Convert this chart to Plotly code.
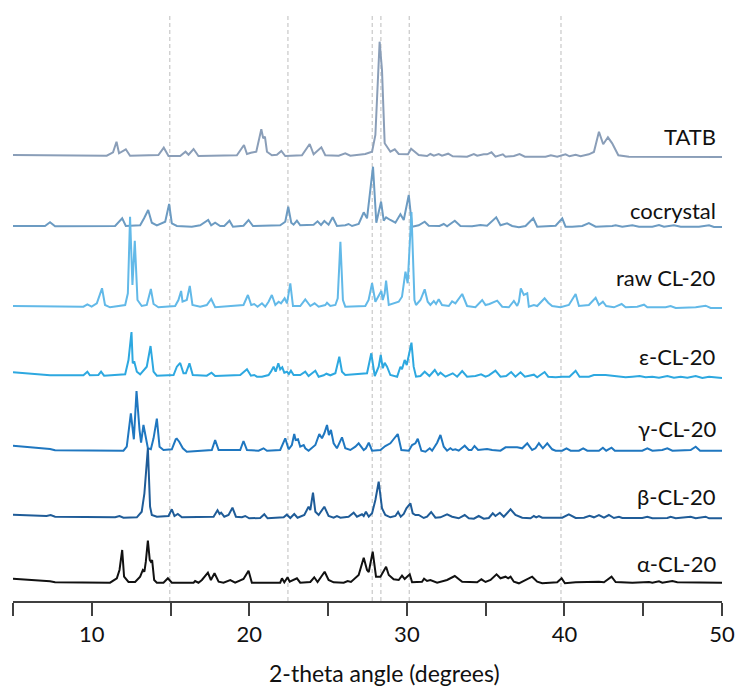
import plotly.graph_objects as go

# Powder XRD patterns (2-theta in degrees, intensity in arbitrary units above each baseline)
TATB = [(5.0, 0.3), (10.95, -0.4), (11.35, 3.0), (11.57, 13.6), (11.73, 2.0), (12.16, 6.0), (12.43, -0.4),
        (14.23, 0.3), (14.57, 7.6), (14.87, -0.7), (15.61, -0.7), (15.95, 3.6), (16.14, 0.6), (16.46, 6.3),
        (16.77, -0.7), (19.21, 0.0), (19.66, 10.3), (19.85, 1.3), (20.10, 2.6), (20.31, 3.6), (20.44, 3.6),
        (20.76, 26.0), (20.88, 17.0), (20.99, 18.6), (21.12, 3.6), (21.43, 0.0), (21.75, 0.6), (22.03, 4.3),
        (22.28, -0.7), (23.34, 0.0), (23.83, 11.3), (24.08, 1.0), (24.57, 8.0), (24.82, 0.0), (25.67, -0.4),
        (26.09, 2.0), (26.41, -0.4), (27.36, 1.3), (27.79, 3.6), (28.0, 20.3), (28.27, 113.6), (28.42, 85.3),
        (28.59, 12.0), (28.95, 3.6), (29.23, 6.0), (29.48, 1.3), (30.07, 1.0), (30.27, 6.6), (30.75, 0.3),
        (31.28, -0.7), (31.49, 1.3), (31.71, -0.4), (32.02, 1.3), (32.23, -0.4), (32.62, 1.6), (32.91, -1.0),
        (33.82, -1.4), (34.25, 1.3), (34.46, -0.4), (34.88, 1.0), (35.09, 1.0), (35.37, 3.0), (35.62, -1.4),
        (36.09, 1.0), (36.26, -1.4), (36.79, -0.7), (37.15, 1.3), (37.49, -1.4), (38.80, -1.4), (39.14, 0.0),
        (39.54, -1.4), (40.07, 1.0), (40.32, -1.0), (40.71, 0.6), (41.02, -1.0), (41.55, 1.0), (41.87, 3.3),
        (42.19, 23.6), (42.46, 11.0), (42.76, 18.0), (43.03, 12.0), (43.42, 0.0), (44.09, -1.4), (50.0, -1.7)]

COCRYSTAL = [(5.0, 0.0), (7.03, 0.0), (7.35, 3.7), (7.67, -0.3), (11.48, 0.0), (11.69, 3.3), (11.93, 7.7),
             (12.16, 0.0), (13.07, 0.7), (13.32, 7.7), (13.58, 16.0), (13.81, 3.3), (14.13, 0.7), (14.66, 4.3),
             (14.91, 22.0), (15.08, 2.7), (15.40, 0.0), (16.35, -0.7), (16.88, 0.7), (17.39, 6.0), (17.58, 0.7),
             (17.83, 3.3), (18.15, 0.0), (18.41, 0.0), (18.74, 5.3), (18.96, -0.7), (19.63, 0.3), (19.95, 6.0),
             (20.23, 0.0), (21.96, 0.7), (22.28, 4.3), (22.47, 19.3), (22.66, 3.3), (22.81, 1.3), (23.02, 5.3),
             (23.23, 0.7), (24.08, 1.3), (24.33, 4.7), (24.55, 1.0), (24.76, 5.0), (25.03, 1.3), (25.29, 8.7),
             (25.56, 0.0), (26.09, 0.7), (26.30, 2.0), (26.52, 0.0), (26.94, 2.0), (27.05, 6.0), (27.26, 13.7),
             (27.47, 7.7), (27.68, 39.3), (27.85, 59.3), (28.06, 3.3), (28.36, 24.3), (28.53, 5.3), (28.68, 8.7),
             (28.95, 6.0), (29.27, 3.3), (29.59, 11.7), (29.80, 6.0), (30.12, 31.0), (30.33, -0.7), (30.75, 0.7),
             (31.13, 4.3), (31.39, 0.3), (32.07, 0.0), (32.34, 2.0), (32.55, -0.3), (33.04, 5.3), (33.40, 0.0),
             (34.14, -0.3), (34.67, 1.0), (35.09, 0.3), (35.67, 8.7), (35.94, 0.7), (36.36, 2.7), (36.68, 0.0),
             (37.11, -1.3), (37.53, 0.0), (38.02, 7.7), (38.27, -0.7), (39.44, 0.3), (39.86, 7.7), (40.07, -0.7),
             (40.49, -0.7), (41.13, 0.0), (41.55, 3.0), (41.98, -0.7), (43.03, 0.0), (43.25, 0.7), (43.67, -0.7),
             (44.31, 0.7), (44.73, -0.7), (45.58, -0.7), (46.00, 1.0), (46.32, -0.7), (46.95, 0.7), (47.38, -0.7),
             (48.54, -0.7), (49.18, 0.7), (49.49, -1.0), (50.0, -1.0)]

RAW_CL20 = [(5.0, 1.0), (9.47, 0.3), (9.72, 2.7), (9.99, 0.3), (10.32, 3.7), (10.65, 18.7), (10.84, 2.0),
            (11.16, -0.3), (12.12, 2.0), (12.29, 13.7), (12.43, 90.3), (12.58, 22.0), (12.73, 66.3), (12.90, 7.0),
            (13.17, 1.0), (13.49, 2.0), (13.75, 18.0), (13.92, 3.0), (14.23, -0.3), (15.29, 1.0), (15.50, 7.0),
            (15.67, 16.0), (15.76, 5.3), (16.03, 7.0), (16.22, 21.0), (16.39, 2.0), (16.88, 0.3), (17.30, 2.0),
            (17.58, 8.0), (17.83, -0.3), (19.63, 2.0), (19.91, 12.0), (20.12, 2.0), (20.31, 3.0), (20.52, 0.3),
            (20.80, 3.7), (21.01, 0.3), (21.22, 5.3), (21.43, 12.0), (21.65, 2.0), (21.86, 5.3), (22.01, 3.7),
            (22.24, 8.7), (22.39, 3.7), (22.60, 23.7), (22.77, 1.0), (23.23, 1.0), (23.55, 7.7), (23.87, 1.0),
            (24.14, 3.7), (24.40, 0.3), (24.82, 2.0), (24.93, 4.3), (25.14, 1.0), (25.46, 2.0), (25.61, 8.7),
            (25.78, 65.3), (25.94, 7.0), (26.09, 0.3), (27.36, 1.0), (27.57, 7.0), (27.79, 23.7), (28.0, 5.3),
            (28.32, 15.0), (28.38, 16.0), (28.47, 7.0), (28.59, 13.7), (28.68, 26.3), (28.85, 2.0), (29.48, 5.3),
            (29.69, 10.3), (29.91, 35.3), (30.05, 23.7), (30.29, 95.0), (30.48, 7.0), (30.58, 2.0), (30.86, 7.0),
            (31.13, 17.7), (31.32, 5.3), (31.49, 2.0), (31.71, 6.0), (31.85, 3.0), (32.02, 7.7), (32.23, 2.0),
            (32.66, 1.0), (32.87, 5.7), (33.08, 3.7), (33.51, 13.0), (33.82, 1.0), (34.35, -0.3), (34.78, 7.0),
            (34.99, 2.0), (35.24, 3.0), (35.73, 6.3), (36.05, 0.3), (36.47, -0.3), (36.79, 6.0), (37.0, 1.0),
            (37.11, 5.3), (37.23, 18.7), (37.42, 12.0), (37.64, 13.7), (37.74, 0.3), (38.06, 2.0), (38.27, 1.0),
            (38.74, 8.7), (38.97, 4.3), (39.22, 1.0), (39.75, -0.3), (40.28, 2.0), (40.71, 13.0), (40.92, 1.0),
            (41.55, 2.0), (41.98, 9.3), (42.19, 2.0), (42.44, 5.3), (42.65, 1.0), (43.14, -0.3), (43.63, 3.0),
            (43.88, -0.3), (44.62, 0.3), (45.05, 2.3), (45.26, -0.3), (46.42, -0.3), (46.74, 1.0), (47.06, -1.0),
            (48.33, -0.3), (48.96, 1.3), (49.28, -1.0), (50.0, -1.0)]

EPSILON_CL20 = [(5.0, 2.7), (7.35, -0.3), (9.47, -0.3), (9.72, 3.3), (9.88, -0.3), (10.42, 0.0), (10.59, 3.3),
                (10.78, -0.7), (12.12, 0.7), (12.33, 15.0), (12.52, 43.0), (12.60, 11.7), (12.69, 13.7),
                (12.86, 3.3), (13.07, 0.7), (13.49, 8.3), (13.73, 29.0), (13.92, 3.3), (14.13, -0.7), (15.19, 0.0),
                (15.40, 8.3), (15.61, 12.0), (15.82, 1.7), (15.97, 1.7), (16.20, 11.7), (16.41, 0.0), (17.30, -0.7),
                (17.60, 2.3), (17.83, -1.0), (19.42, 0.0), (19.85, 5.7), (20.10, -0.7), (20.31, 0.0), (20.48, -1.7),
                (20.80, -1.7), (21.22, 0.0), (21.37, 3.3), (21.54, 8.3), (21.67, 3.3), (21.84, 11.7), (21.96, 5.7),
                (22.09, 7.7), (22.22, 2.3), (22.39, 3.3), (22.51, 1.0), (22.64, 4.3), (22.81, 0.0), (23.23, 0.0),
                (23.55, 3.3), (23.76, -1.0), (23.98, 1.7), (24.19, 4.3), (24.40, -1.7), (24.72, -0.3), (24.89, 1.3),
                (25.14, -0.3), (25.46, 1.7), (25.71, 18.3), (25.88, 3.3), (26.09, 0.0), (27.47, 1.7), (27.74, 21.7),
                (27.96, -1.0), (28.21, 8.3), (28.34, 20.0), (28.47, 6.7), (28.59, 12.3), (28.74, 8.3), (28.95, 0.0),
                (29.38, -1.7), (29.59, 8.3), (29.69, 5.7), (29.86, 15.0), (29.99, 10.0), (30.29, 32.3), (30.43, 8.3),
                (30.58, -1.7), (30.86, -1.0), (31.13, 3.3), (31.43, -1.0), (31.77, 5.0), (31.98, 0.0), (32.13, 2.3),
                (32.45, -1.7), (32.91, 1.7), (33.19, -1.7), (33.51, 4.0), (33.82, -1.7), (34.35, -1.0), (34.71, 0.7),
                (34.99, -1.7), (35.20, -0.3), (35.62, 4.3), (35.94, -1.7), (36.30, -1.0), (36.62, 3.0), (36.89, -1.7),
                (37.21, 2.7), (37.49, -1.7), (38.06, 0.3), (38.27, -2.3), (38.74, 3.0), (38.97, -1.7), (39.44, -2.3),
                (39.86, -1.7), (40.32, -1.7), (40.71, 4.3), (40.96, -1.7), (41.55, -1.7), (41.87, 0.0), (42.61, 0.0),
                (43.03, -0.7), (43.46, -1.7), (43.88, -2.3), (44.31, -1.7), (44.77, -1.0), (45.15, -2.3),
                (45.58, -1.7), (46.00, -2.7), (46.53, -1.0), (46.95, -2.7), (47.38, -1.7), (47.80, -2.7),
                (48.33, -1.0), (48.75, -3.0), (49.18, -1.7), (50.0, -3.0)]

GAMMA_CL20 = [(5.0, 4.3), (6.29, 2.7), (7.35, 1.0), (7.67, -0.3), (12.01, -0.7), (12.22, 3.3), (12.48, 36.7),
              (12.67, 10.7), (12.84, 59.0), (13.03, 20.0), (13.13, 7.3), (13.28, 25.0), (13.43, 13.3), (13.56, 1.7),
              (13.75, 0.7), (13.92, 11.7), (14.13, 31.3), (14.30, 3.3), (14.55, 0.0), (15.08, 0.7), (15.33, 10.7),
              (15.40, 11.3), (15.55, 8.3), (15.78, 1.7), (16.03, -1.7), (17.62, 0.0), (17.83, 10.0), (18.05, 0.0),
              (19.42, 0.0), (19.63, 9.0), (19.85, 0.0), (20.59, -0.7), (20.90, 1.7), (21.12, -0.7), (21.96, 0.0),
              (22.28, 11.7), (22.49, 0.7), (22.70, 5.0), (22.85, 16.0), (22.94, 10.0), (23.09, 10.7), (23.23, 3.3),
              (23.45, 5.0), (23.55, 1.7), (23.76, -0.7), (24.19, 5.0), (24.44, 16.0), (24.61, 11.7), (24.76, 16.7),
              (24.93, 25.0), (25.05, 15.0), (25.18, 20.0), (25.35, 6.7), (25.56, 1.7), (25.88, 12.7), (26.09, 1.7),
              (26.41, 0.0), (26.73, 3.3), (26.94, 6.7), (27.26, 0.0), (27.40, 1.7), (27.58, 7.3), (27.79, -0.7),
              (28.32, 0.0), (28.63, 4.0), (28.95, 6.7), (29.42, 16.0), (29.65, 0.0), (30.12, -0.7), (30.33, 5.0),
              (30.54, 6.7), (30.69, 11.3), (30.92, -0.7), (31.18, -1.7), (31.45, 1.7), (31.60, -0.7), (31.92, 7.3),
              (32.13, 15.0), (32.34, 3.3), (32.55, -0.7), (32.76, 1.7), (32.91, 0.0), (33.08, 0.7), (33.29, -0.7),
              (33.67, 4.3), (33.93, 0.0), (34.10, 0.0), (34.29, 4.0), (34.52, 0.0), (35.09, 1.0), (35.41, 0.0),
              (35.94, -0.7), (36.26, 2.7), (37.0, 2.7), (37.32, 1.7), (37.64, 6.7), (37.95, 0.0), (38.16, 1.7),
              (38.38, 6.7), (38.63, 1.7), (38.91, 6.7), (39.22, 0.7), (39.44, -0.7), (39.86, -0.7), (40.13, 1.7),
              (40.39, -0.7), (40.92, -0.7), (41.19, 1.7), (41.45, -0.7), (42.19, -0.7), (42.44, 2.3), (42.65, -0.7),
              (42.99, 2.3), (43.20, -0.7), (44.94, -0.7), (45.26, 1.7), (45.58, -0.7), (46.21, 0.0), (46.53, 1.7),
              (46.85, -0.7), (48.01, 0.0), (48.33, 3.3), (48.61, -0.7), (50.0, -0.7)]

BETA_CL20 = [(5.0, 2.3), (6.29, 1.3), (7.13, 1.0), (7.39, 2.0), (7.67, 0.3), (11.48, -0.3), (11.76, 1.0),
             (12.01, -0.7), (12.86, -0.3), (13.17, 5.3), (13.34, 23.7), (13.56, 68.7), (13.70, 10.3), (13.81, 2.0),
             (14.13, 0.3), (14.87, 1.0), (15.08, 7.7), (15.25, 1.0), (15.46, 3.0), (15.72, -0.3), (17.73, 0.3),
             (17.98, 6.7), (18.11, 3.0), (18.21, 4.3), (18.41, 0.3), (18.68, 2.0), (18.93, 9.3), (19.15, 0.3),
             (19.53, -0.3), (19.74, 1.0), (19.99, -1.3), (20.69, -1.0), (20.95, 2.7), (21.16, -1.3), (22.18, -0.3),
             (22.38, 2.3), (22.60, -1.0), (22.85, 3.0), (23.06, -0.7), (23.49, 2.0), (23.76, 10.3), (23.87, 7.0),
             (24.04, 24.3), (24.19, 5.3), (24.40, 2.0), (24.76, 10.3), (25.03, 1.0), (25.35, -0.7), (25.56, 1.0),
             (25.78, -0.7), (26.30, 0.3), (26.62, 4.3), (26.83, 0.3), (27.15, 2.7), (27.26, 1.0), (27.40, 5.3),
             (27.58, 0.3), (27.79, 3.7), (28.0, 17.0), (28.21, 35.3), (28.42, 8.7), (28.63, 2.0), (28.95, -0.3),
             (29.27, 1.0), (29.44, 5.0), (29.61, 0.3), (29.80, 3.0), (29.97, 8.7), (30.22, 13.7), (30.37, 3.7),
             (30.54, 2.0), (30.75, 2.0), (31.07, -1.0), (31.28, 0.3), (31.54, 5.0), (31.81, -0.7), (32.13, -0.3),
             (32.55, 2.7), (32.87, 0.3), (33.29, -1.3), (33.67, 2.0), (33.93, -1.3), (34.25, -1.7), (34.56, 1.0),
             (34.88, -1.7), (35.20, -1.0), (35.45, 3.7), (35.62, 1.0), (35.90, 4.3), (36.15, 0.3), (36.58, 7.7),
             (36.89, 2.0), (37.32, -0.7), (37.85, -1.3), (38.06, 1.0), (38.21, -0.3), (38.38, 1.0), (38.59, -0.7),
             (39.54, -1.0), (39.86, -0.7), (40.28, 2.7), (40.71, -1.0), (41.24, -0.7), (41.60, 1.3), (41.87, -0.3),
             (42.19, 2.0), (42.51, -0.7), (42.82, 2.0), (43.14, -1.0), (43.46, 0.3), (43.67, -1.0), (44.94, -1.0),
             (45.26, 0.3), (45.58, -1.3), (46.53, -1.0), (46.74, 0.3), (47.06, -1.3), (47.69, -0.7), (48.01, 0.3),
             (48.33, -1.3), (48.96, 0.3), (49.18, -1.3), (50.0, -1.3)]

ALPHA_CL20 = [(5.0, 3.3), (6.29, 2.0), (7.35, 0.7), (7.67, -0.3), (11.16, -0.7), (11.59, 3.7), (11.76, 12.0),
              (11.93, 32.0), (12.05, 5.3), (12.33, 0.0), (12.75, 0.0), (13.07, 5.3), (13.24, 12.0), (13.34, 10.3),
              (13.43, 20.3), (13.56, 41.3), (13.68, 22.0), (13.75, 20.3), (13.83, 22.0), (13.96, 2.0), (14.13, -0.7),
              (14.55, -0.7), (14.83, 3.7), (15.08, -0.7), (16.46, -0.7), (16.56, 1.0), (16.77, -0.7), (16.99, 2.0),
              (17.37, 9.3), (17.56, 2.0), (17.79, 8.7), (18.05, 0.3), (18.36, -0.7), (18.79, 2.0), (19.10, -0.7),
              (19.63, 3.0), (19.95, 11.3), (20.16, -0.7), (21.96, -0.7), (22.07, 3.7), (22.22, -0.3), (22.43, 4.7),
              (22.56, 0.3), (23.02, 3.7), (23.23, -0.7), (23.87, 0.0), (24.12, 4.7), (24.33, 0.0), (24.78, 10.3),
              (25.03, 2.0), (25.35, -0.3), (25.99, -0.7), (26.24, 1.0), (26.45, 0.0), (26.73, 3.7), (26.94, 7.0),
              (27.26, 24.3), (27.47, 12.0), (27.58, 10.0), (27.83, 30.3), (28.04, 5.3), (28.32, 5.3), (28.68, 15.3),
              (28.85, 7.0), (29.16, 2.7), (29.48, 2.0), (29.69, 6.3), (29.86, 3.0), (30.18, 7.7), (30.33, -0.3),
              (30.96, 0.3), (31.09, 3.3), (31.28, 1.0), (31.49, 2.0), (31.92, -0.7), (32.55, 2.0), (33.04, 6.0),
              (33.51, 0.3), (34.46, -0.3), (34.73, 2.7), (34.99, 0.0), (35.31, 2.0), (35.69, 7.7), (35.94, 3.7),
              (36.26, 5.3), (36.43, 3.7), (36.58, 5.3), (36.79, 0.3), (37.11, -1.3), (37.64, 2.7), (37.95, 5.3),
              (38.27, 0.3), (38.59, -1.3), (39.54, -0.3), (39.82, 3.7), (40.03, -1.3), (40.71, -0.3), (42.19, 0.3),
              (42.51, -0.3), (42.99, 5.3), (43.25, 0.0), (44.31, -0.7), (45.37, 0.0), (45.58, -0.7), (46.00, 0.7),
              (46.21, -0.7), (46.85, 1.0), (47.16, -0.3), (50.0, -0.7)]

SERIES_NAMES = ["TATB", "cocrystal", "raw CL-20", "ε-CL-20", "γ-CL-20", "β-CL-20", "α-CL-20"]
SERIES_DATA = [TATB, COCRYSTAL, RAW_CL20, EPSILON_CL20, GAMMA_CL20, BETA_CL20, ALPHA_CL20]
STACK_OFFSETS = [445.7, 375.0, 294.0, 226.0, 151.0, 84.0, 19.0]

# Reference 2-theta positions marked with dashed guides
GUIDE_ANGLES = [14.95, 22.45, 27.8, 28.35, 30.15, 39.78]

TICK_VALUES = [5, 10, 15, 20, 25, 30, 35, 40, 45, 50]
TICK_LABELS = ["", "10", "", "20", "", "30", "", "40", "", "50"]

COLORS = ["#8A9EB8", "#6C9BC2", "#62B9E8", "#2DA8E0", "#1F77C0", "#1F5C98", "#111111"]
LABEL_RISE = [18.6, 16.0, 30.0, 18.3, 21.7, 20.3, 19.0]
FONT = "Lato, 'Open Sans', sans-serif"

fig = go.Figure()

for name, data, offset, color in zip(SERIES_NAMES, SERIES_DATA, STACK_OFFSETS, COLORS):
    xs = [p[0] for p in data]
    ys = [p[1] + offset for p in data]
    fig.add_trace(go.Scatter(
        x=xs, y=ys, mode="lines", name=name,
        line=dict(color=color, width=2),
        hoverinfo="skip", showlegend=False, cliponaxis=False,
    ))

# Series names, right-aligned just inside the end of the axis
for name, offset, rise in zip(SERIES_NAMES, STACK_OFFSETS, LABEL_RISE):
    fig.add_annotation(
        x=1, y=offset + rise, xref="paper", yref="y", xshift=-4,
        text=name, showarrow=False, xanchor="right", yanchor="middle",
        font=dict(family=FONT, size=22, color="#111111"),
    )

for ang in GUIDE_ANGLES:
    fig.add_shape(
        type="line", x0=ang, x1=ang, y0=0, y1=1, xref="x", yref="paper",
        line=dict(color="#C8C8C8", width=1.2, dash="4px,3px"), layer="below",
    )

fig.add_annotation(
    x=28.58, y=0, xref="x", yref="paper", yshift=-72,
    text="2-theta angle (degrees)", showarrow=False,
    xanchor="center", yanchor="middle",
    font=dict(family=FONT, size=23, color="#111111"),
)

fig.update_layout(
    width=735, height=686, autosize=False,
    margin=dict(l=13, r=13, t=14, b=85, autoexpand=False),
    paper_bgcolor="white", plot_bgcolor="white",
    xaxis=dict(
        range=[5, 50], tickmode="array", tickvals=TICK_VALUES, ticktext=TICK_LABELS,
        showline=True, linecolor="#404040", linewidth=2,
        ticks="outside", ticklen=13, tickwidth=1.8, tickcolor="#404040",
        tickfont=dict(family=FONT, size=22, color="#111111"),
        showgrid=False, zeroline=False, automargin=False,
    ),
    yaxis=dict(range=[0, 587], visible=False, showgrid=False, zeroline=False, automargin=False),
)

fig.write_html("out.html", config={"responsive": False})
